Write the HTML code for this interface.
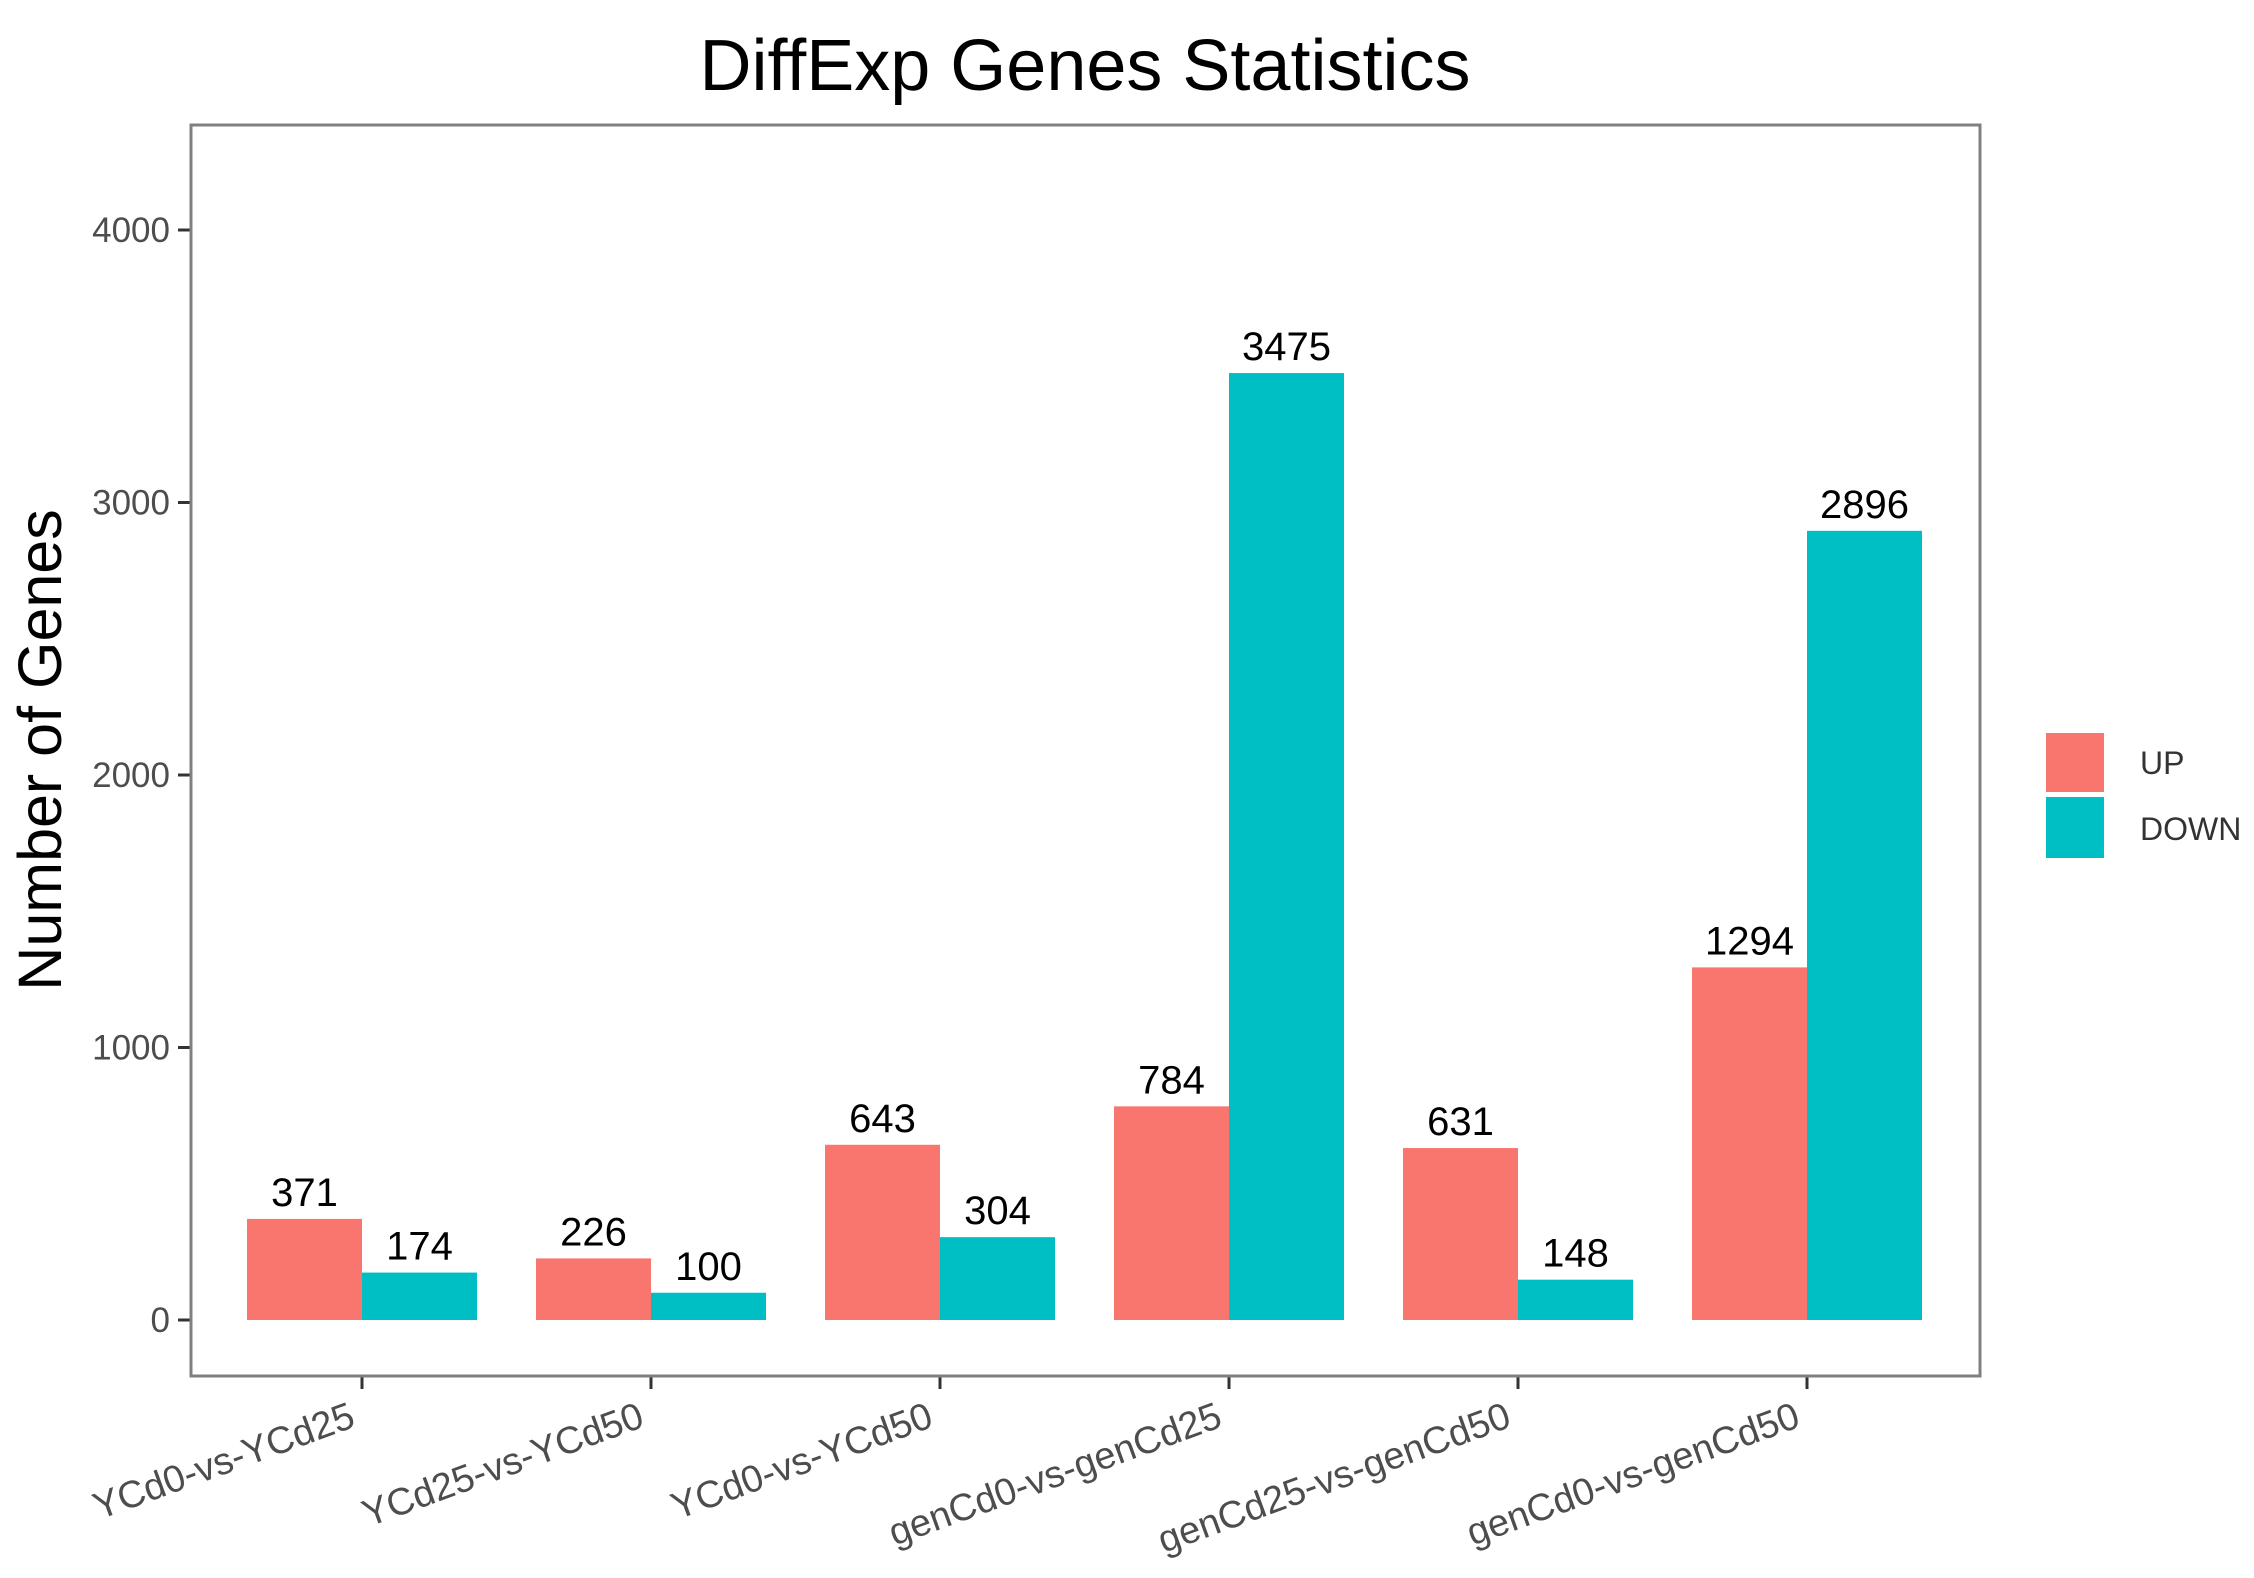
<!DOCTYPE html>
<html><head><meta charset="utf-8"><style>
html,body{margin:0;padding:0;background:#fff;}
svg{display:block;font-family:"Liberation Sans",Arial,sans-serif;}
</style></head><body>
<svg id="chart" width="2254" height="1578" viewBox="0 0 2254 1578" xmlns="http://www.w3.org/2000/svg">
<rect x="0" y="0" width="2254" height="1578" fill="#fff"/>
<text x="1085" y="90" font-size="72" text-anchor="middle" fill="#000">DiffExp Genes Statistics</text>
<text transform="translate(61,750) rotate(-90)" font-size="61" text-anchor="middle" fill="#000">Number of Genes</text>
<g id="plot"></g>
<rect x="191" y="125" width="1789" height="1251" fill="none" stroke="#808080" stroke-width="3"/>
<g>
<rect x="2046" y="733" width="58" height="59" fill="#F8766D"/>
<rect x="2046" y="797" width="58" height="61" fill="#00BFC4"/>
<text x="2140" y="774" font-size="32" fill="#333">UP</text>
<text x="2140" y="840" font-size="32" fill="#333">DOWN</text>
</g>
</svg>
<script>
const categories = ["YCd0-vs-YCd25","YCd25-vs-YCd50","YCd0-vs-YCd50","genCd0-vs-genCd25","genCd25-vs-genCd50","genCd0-vs-genCd50"];
const upValues = [371,226,643,784,631,1294];
const downValues = [174,100,304,3475,148,2896];
const yTicks = [0,1000,2000,3000,4000];
const yTickLabels = ["0","1000","2000","3000","4000"];

const NS = "http://www.w3.org/2000/svg";
const g = document.getElementById('plot');
const y0 = 1320, pxPer = 0.2725;
function yScale(v){ return y0 - v * pxPer; }
function xScale(i){ return 362 + i * 289; }
const barW = 115;
function mk(tag, attrs){ const e = document.createElementNS(NS, tag); for (const k in attrs) e.setAttribute(k, attrs[k]); g.appendChild(e); return e; }

yTicks.forEach((t, i) => {
  const y = yScale(t);
  const tk = mk('line', {x1:178, x2:191, y1:y, y2:y, stroke:'#333', 'stroke-width':3});
  
  
  const lb = mk('text', {x:170, y:y+12, 'font-size':35, 'text-anchor':'end', fill:'#4d4d4d'});
  lb.textContent = yTickLabels[i];
  
  
});

categories.forEach((c, i) => {
  const cx = xScale(i);
  const series = [[upValues[i], '#F8766D', cx - barW, 'bar-up'], [downValues[i], '#00BFC4', cx, 'bar-down']];
  series.forEach(s => {
    const top = yScale(s[0]);
    const r = mk('rect', {x:s[2], y:top, width:barW, height:y0 - top, fill:s[1]});
    
    
    const t = mk('text', {x:s[2] + barW/2, y:top - 13, 'font-size':40, 'text-anchor':'middle', fill:'#000'});
    t.textContent = String(s[0]);
    
    
  });
  const tk = mk('line', {x1:cx, x2:cx, y1:1376, y2:1389, stroke:'#333', 'stroke-width':3});
  
  
  const xl = mk('text', {x:cx - 5, y:1426, 'font-size':38, 'text-anchor':'end', fill:'#4d4d4d', transform:'rotate(-20 ' + (cx - 5) + ' 1426)'});
  xl.textContent = c;
  
  
});
</script>
</body></html>
